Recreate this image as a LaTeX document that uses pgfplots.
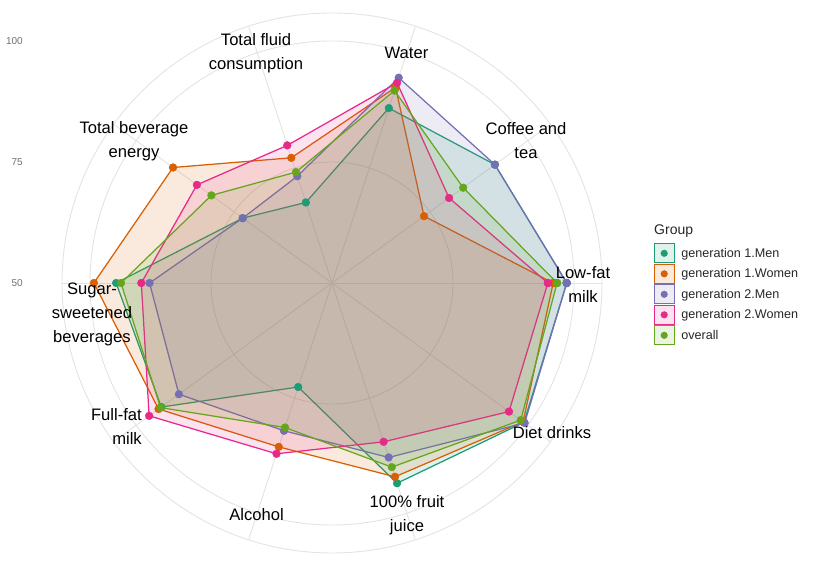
\documentclass[border=0pt]{standalone}
\usepackage{pgfplots}
\pgfplotsset{compat=1.18}
\usepackage{pgfplotstable}
\usepackage{fontspec}
\setmainfont{Liberation Sans}
\definecolor{cA}{HTML}{1B9E77}
\definecolor{cB}{HTML}{D95F02}
\definecolor{cC}{HTML}{7570B3}
\definecolor{cD}{HTML}{E7298A}
\definecolor{cE}{HTML}{66A61E}
\definecolor{gridc}{HTML}{E3E3E3}
\definecolor{tickc}{HTML}{707070}

% angle (deg, counter-clockwise from east)  value
% 0 Low-fat milk, 36 Coffee and tea, 72 Water, 108 Total fluid consumption,
% 144 Total beverage energy, 180 Sugar-sweetened beverages, 216 Full-fat milk,
% 252 Alcohol, 288 100% fruit juice, 324 Diet drinks
\pgfplotstableread{
a v
0 98.5
36 91.6
72 88.0
108 67.5
144 72.8
180 94.6
216 93.6
252 72.6
288 93.5
324 99.0
360 98.5
}\gA
\pgfplotstableread{
a v
0 95.7
36 73.5
72 92.5
108 77.2
144 90.6
180 99.2
216 94.3
252 85.6
288 92.1
324 98.8
360 95.7
}\gB
\pgfplotstableread{
a v
0 98.5
36 91.6
72 94.6
108 73.2
144 72.8
180 87.7
216 89.1
252 82.1
288 87.9
324 99.2
360 98.5
}\gC
\pgfplotstableread{
a v
0 94.6
36 79.9
72 93.5
108 79.9
144 84.5
180 89.4
216 96.7
252 87.1
288 84.5
324 95.2
360 94.6
}\gD
\pgfplotstableread{
a v
0 96.5
36 83.5
72 91.8
108 74.1
144 80.8
180 93.6
216 93.8
252 81.4
288 90.0
324 98.2
360 96.5
}\gE

\begin{document}
\begin{tikzpicture}
\useasboundingbox (0,0) rectangle (829bp,566bp);
% polar grid (value 50 at centre, 4.84bp per unit)
\begin{scope}[gridc, line width=0.9bp]
\draw (332bp,283bp) circle (121bp);
\draw (332bp,283bp) circle (242bp);
\draw (332bp,283bp) circle (270bp);
\foreach \t in {0,36,...,324} \draw (332bp,283bp) -- ++(\t:270bp);
\end{scope}
\begin{axis}[
  at={(0,0)}, anchor=south west,
  x=4.84bp, y=4.84bp,
  xmin=-68.595, xmax=102.686, ymin=-58.471, ymax=58.471,
  hide axis, clip=false,
  table/x expr={(\thisrow{v}-50)*cos(\thisrow{a})},
  table/y expr={(\thisrow{v}-50)*sin(\thisrow{a})},
  poly/.style={line width=1.25bp, fill opacity=0.13, draw opacity=1, mark=none},
  pts/.style={only marks, mark=*, mark size=3.9bp, forget plot},
  legend image code/.code={
    \draw[#1, line width=0.9bp, fill opacity=0.13, draw opacity=1] (0bp,-9.5bp) rectangle (19.5bp,9.5bp);
    \fill[#1, fill opacity=1, draw=none] (9.75bp,0bp) circle (3.6bp);
  },
  legend style={at={(axis description cs:0.7889,0.5700)}, anchor=north west,
    draw=none, fill=none, inner sep=0pt, outer sep=0pt, row sep=0.6bp,
    nodes={inner sep=0pt, anchor=west},
    font=\fontsize{12.6bp}{14bp}\selectfont, text=black!85,
    /tikz/every odd column/.append style={column sep=7bp}},
  legend cell align=left,
]
\addplot[poly, draw=cA, fill=cA] table {\gA}; \addlegendentry{generation 1.Men}
\addplot[poly, draw=cB, fill=cB] table {\gB}; \addlegendentry{generation 1.Women}
\addplot[poly, draw=cC, fill=cC] table {\gC}; \addlegendentry{generation 2.Men}
\addplot[poly, draw=cD, fill=cD] table {\gD}; \addlegendentry{generation 2.Women}
\addplot[poly, draw=cE, fill=cE] table {\gE}; \addlegendentry{overall}
\addplot[pts, cA, mark options={fill=cA, draw=cA}] table {\gA};
\addplot[pts, cB, mark options={fill=cB, draw=cB}] table {\gB};
\addplot[pts, cC, mark options={fill=cC, draw=cC}] table {\gC};
\addplot[pts, cD, mark options={fill=cD, draw=cD}] table {\gD};
\addplot[pts, cE, mark options={fill=cE, draw=cE}] table {\gE};
\end{axis}
% radial scale labels
\begin{scope}[every node/.style={inner sep=0pt, anchor=east, text=tickc, font=\fontsize{10bp}{12bp}\selectfont}]
\node at (23bp,525bp) {100};
\node at (23bp,404bp) {75};
\node at (23bp,283bp) {50};
\end{scope}
% category labels
\begin{scope}[every node/.style={inner sep=0pt, align=center, text=black, font=\fontsize{16.6bp}{24bp}\selectfont}]
\node at (406.5bp,513bp) {Water};
\node at (526bp,425bp) {Coffee and\\tea};
\node at (583bp,282bp) {Low-fat\\milk};
\node at (552bp,133bp) {Diet drinks};
\node at (407bp,51bp) {100\% fruit\\juice};
\node at (256.5bp,51bp) {Alcohol};
\node[anchor=east, align=right] at (142bp,139.5bp) {Full-fat\\milk};
\node at (92bp,252bp) {Sugar-\\sweetened\\beverages};
\node at (134bp,425bp) {Total beverage\\energy};
\node at (256bp,513bp) {Total fluid\\consumption};
\end{scope}
\node[anchor=west, inner sep=0pt, text=black!85, font=\fontsize{14bp}{16bp}\selectfont] at (654bp,335bp) {Group};
\end{tikzpicture}
\end{document}
